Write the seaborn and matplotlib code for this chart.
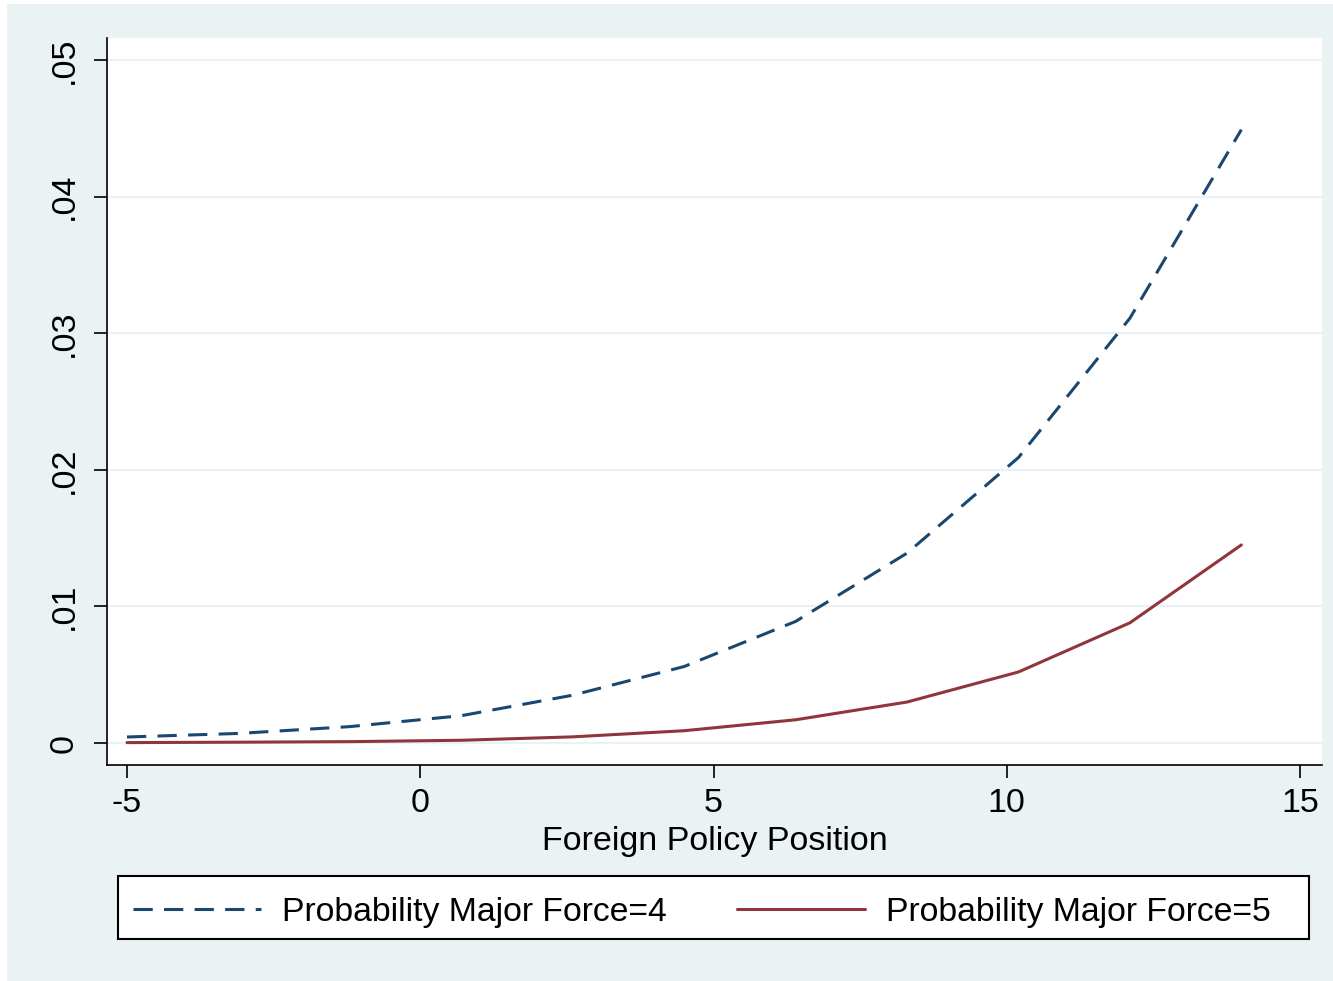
import numpy as np
import pandas as pd
import matplotlib
matplotlib.use('Agg')
import matplotlib.pyplot as plt
import seaborn as sns
from matplotlib.patches import Rectangle

sns.set_theme(style='white')
plt.rcParams['font.family'] = ['Liberation Sans', 'DejaVu Sans']
plt.rcParams['text.color'] = 'black'

# values
position = [-5, -3.1, -1.2, 0.7, 2.6, 4.5, 6.4, 8.3, 10.2, 12.1, 14]
prob_mf4 = [0.00044, 0.0007, 0.0012, 0.002, 0.0035, 0.0056, 0.0089, 0.0139, 0.0209, 0.0311, 0.0449]
prob_mf5 = [0.00003, 0.00006, 0.0001, 0.0002, 0.00045, 0.0009, 0.0017, 0.003, 0.0052, 0.0088, 0.0145]
series_names = ['Probability Major Force=4', 'Probability Major Force=5']
x_ticks = [-5, 0, 5, 10, 15]
y_ticks = [0, 0.01, 0.02, 0.03, 0.04, 0.05]
y_labels = ['0', '.01', '.02', '.03', '.04', '.05']

df = pd.concat([
    pd.DataFrame({'pos': position, 'prob': prob_mf4, 'series': series_names[0]}),
    pd.DataFrame({'pos': position, 'prob': prob_mf5, 'series': series_names[1]}),
])

bg = '#EAF2F3'
lw = 2.2
fig = plt.figure(figsize=(13.33, 9.81), dpi=100, facecolor='white')
fig.patches.append(Rectangle((7 / 1333, 0), 1, 1 - 4 / 981, transform=fig.transFigure,
                             facecolor=bg, edgecolor='none', zorder=-10))
ax = fig.add_axes([107 / 1333, 1 - 765 / 981, (1322 - 107) / 1333, (765 - 38) / 981])
ax.set_facecolor('white')

sns.lineplot(data=df, x='pos', y='prob', hue='series', style='series', ax=ax,
             palette={series_names[0]: '#1A476F', series_names[1]: '#90353B'},
             dashes={series_names[0]: (6.3, 3.7), series_names[1]: ''},
             linewidth=lw, legend=True)

ax.set_xlim(-5.341, 15.375)
ax.set_ylim(-0.00161, 0.05161)
ax.set_xticks(x_ticks)
ax.set_xticklabels([str(t) for t in x_ticks])
ax.set_yticks(y_ticks)
ax.set_yticklabels(y_labels, rotation=90, va='center')
ax.yaxis.grid(True, color=bg, linewidth=1.6)
ax.xaxis.grid(False)
ax.set_axisbelow(True)

for s in ['top', 'right']:
    ax.spines[s].set_visible(False)
for s in ['left', 'bottom']:
    ax.spines[s].set_color('black')
    ax.spines[s].set_linewidth(1.2)
ax.tick_params(axis='both', which='major', direction='out', length=9.4, width=1.2,
               color='black', labelsize=24.5, labelcolor='black', left=True, bottom=True)
ax.tick_params(axis='y', pad=10)
ax.tick_params(axis='x', pad=7)
ax.set_xlabel('Foreign Policy Position', fontsize=24.5, color='black', labelpad=5)
ax.set_ylabel('')

handles, labels = ax.get_legend_handles_labels()
ax.get_legend().remove()

# legend frame drawn as its own box
fig.patches.append(Rectangle((118 / 1333, 1 - 939 / 981), (1309 - 118) / 1333, 63 / 981,
                             transform=fig.transFigure, facecolor='white',
                             edgecolor='black', linewidth=1.5, zorder=1))
fsz = 24.3
px = fsz * 100 / 72
leg = fig.legend(handles, labels, loc='center left', ncol=2,
                 bbox_to_anchor=(133 / 1333, 1 - 912 / 981),
                 fontsize=fsz, frameon=False, handlelength=128 / px,
                 handletextpad=21 / px, columnspacing=70 / px, borderpad=0,
                 borderaxespad=0)
leg.set_zorder(2)
for line in leg.get_lines():
    line.set_linewidth(lw)
for t in leg.get_texts():
    t.set_color('black')

fig.savefig('out.png', dpi=100, facecolor=fig.get_facecolor())
